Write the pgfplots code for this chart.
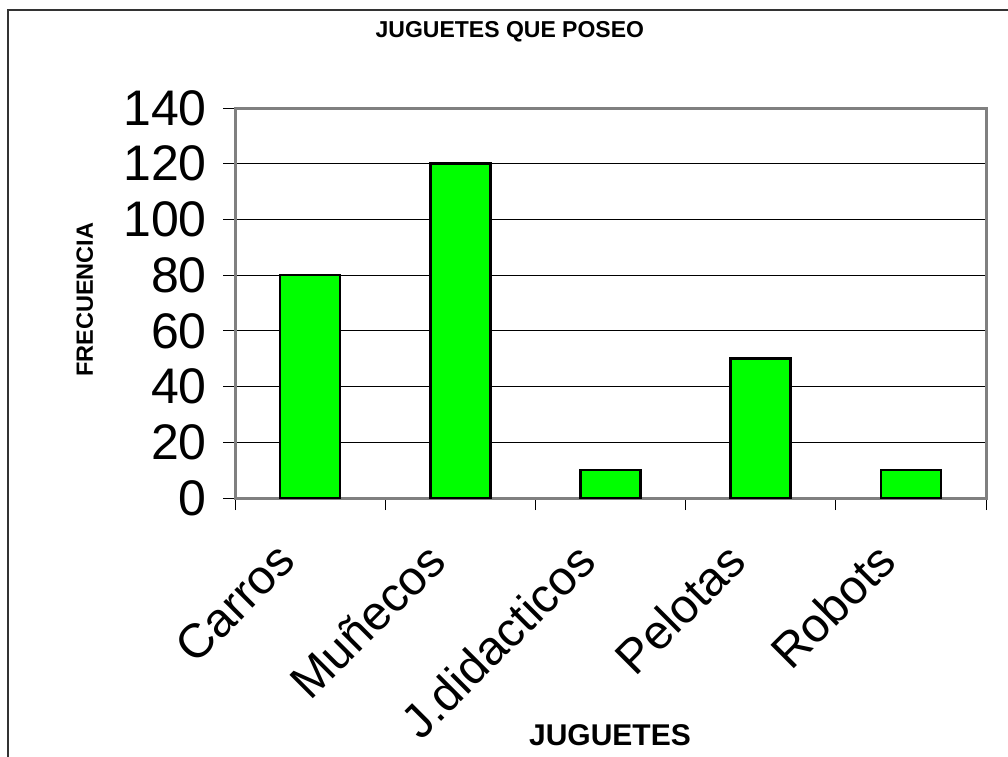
\documentclass[border=0pt]{standalone}
\usepackage{pgfplots}
\pgfplotsset{compat=1.18}
\usepackage{fontspec}
\setmainfont{Liberation Sans}
\definecolor{bargreen}{RGB}{0,255,0}
\definecolor{frame}{RGB}{128,128,128}
\begin{document}
\begin{tikzpicture}[x=1pt,y=1pt]
\useasboundingbox (0,0) rectangle (1008,756);
\draw[line width=2.5pt, black!80] (8,-20) -- (8,746) -- (1030,746);
\begin{axis}[
  at={(235pt,258pt)}, anchor=south west,
  width=751pt, height=390pt, scale only axis,
  xmin=-0.5, xmax=4.5, ymin=0, ymax=140,
  xtick={-0.5,0.5,1.5,2.5,3.5,4.5},
  x tick label as interval,
  xticklabels={Carros,Muñecos,J.didacticos,Pelotas,Robots},
  ytick={0,20,...,140},
  xtick pos=bottom, ytick pos=left,
  tick align=outside,
  major tick length=12pt,
  tick style={black, line width=1pt},
  ymajorgrids, grid style={black, line width=1pt},
  axis line style={draw=frame, line width=3pt},
  /pgf/number format/assume math mode=true,
  yticklabel style={font=\fontsize{50}{52}\selectfont, inner sep=0pt, xshift=-16pt},
  xticklabel style={font=\fontsize{48}{50}\selectfont, inner sep=0pt, xshift=-24pt, yshift=-42pt, rotate=45, anchor=east},
  every axis title shift=0pt,
  title={JUGUETES QUE POSEO},
  title style={font=\fontsize{23}{25}\selectfont\bfseries, at={(axis description cs:0.366,1.195)}, anchor=center},
  xlabel={JUGUETES},
  xlabel style={font=\fontsize{30}{32}\selectfont\bfseries, at={(axis description cs:0.4993,-0.608)}, anchor=center},
  ylabel={FRECUENCIA},
  ylabel style={font=\fontsize{23.5}{25}\selectfont\bfseries, at={(axis description cs:-0.2,0.508)}, anchor=center, rotate=0},
]
\addplot[ybar, bar width=60pt, fill=bargreen, draw=black, line width=2.5pt]
  coordinates {(0,80) (1,120) (2,10) (3,50) (4,10)};
\end{axis}
\end{tikzpicture}
\end{document}
